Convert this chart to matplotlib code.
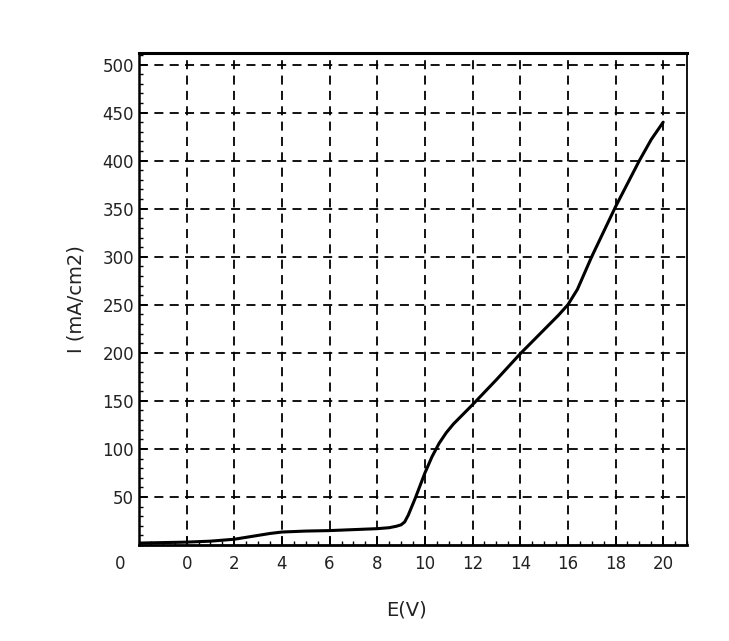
import numpy as np
import matplotlib
matplotlib.use('Agg')
import matplotlib.pyplot as plt
from matplotlib.ticker import MultipleLocator

# values
e_volts = [-2, -1, 0, 1, 2, 3, 3.5, 4, 5, 6, 7, 8, 8.5, 8.8, 9.0, 9.15, 9.3, 9.45, 9.6, 9.8, 10, 10.3, 10.6, 10.9, 11.2, 11.6, 12, 13, 14, 15, 15.6, 16, 16.4, 17, 18, 19, 19.5, 20]
current = [2, 2.5, 3, 4, 6, 10, 12, 13.5, 14.5, 15, 16, 17, 18, 19.5, 21, 24, 31, 40, 49, 62, 75, 92, 106, 117, 126, 136, 146, 172, 199, 224, 239, 250, 266, 300, 352, 400, 422, 440]

x_ticks = list(range(0, 21, 2))
y_ticks = list(range(50, 501, 50))

fig = plt.figure(figsize=(7.29, 6.41), dpi=100)
ax = fig.add_axes([139 / 729, 1 - 545 / 641, (687 - 139) / 729, (545 - 53) / 641])

ax.plot(e_volts, current, color='black', lw=2.2, solid_capstyle='round',
        solid_joinstyle='round')

ax.set_xlim(-2, 21)
ax.set_ylim(0, 512)
ax.set_xticks(x_ticks)
ax.set_yticks(y_ticks)
ax.xaxis.set_minor_locator(MultipleLocator(0.5))
ax.yaxis.set_minor_locator(MultipleLocator(10))
ax.tick_params(which='both', direction='in', colors='black', labelsize=12,
               labelcolor='#222222')
ax.tick_params(which='major', length=6, width=1.3)
ax.tick_params(which='minor', length=3, width=1)
ax.tick_params(axis='x', pad=7)

ax.grid(True, which='major', color='black', ls=(0, (5, 3.5)), lw=1.3)

for side, w in [('top', 2.2), ('bottom', 2.0), ('left', 1.8), ('right', 1.3)]:
    ax.spines[side].set_linewidth(w)
    ax.spines[side].set_color('black')

# stray "0" at the corner of the plotter output
ax.text(-0.035, -0.02, '0', transform=ax.transAxes, fontsize=12,
        color='#222222', ha='center', va='top')

ax.set_xlabel('E(V)', fontsize=14, color='#222222')
ax.xaxis.set_label_coords((407 - 139) / (687 - 139), -(600 - 545) / (545 - 53))
ax.set_ylabel('I (mA/cm2)', fontsize=14, color='#222222', labelpad=12)

fig.savefig('out.png', dpi=100)
